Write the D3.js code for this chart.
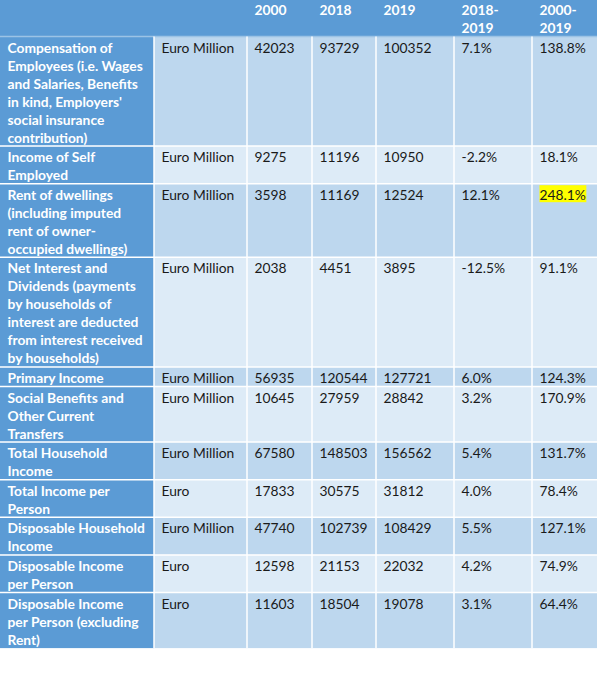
<!DOCTYPE html>
<html><head><meta charset="utf-8">
<script src="https://cdn.jsdelivr.net/npm/d3@7"></script>
<style>
html,body{margin:0;padding:0;background:#fff;}
svg{display:block;}
</style></head>
<body>
<svg id="chart" width="613" height="680"></svg>
<script>
// ---- data ----
const headers = ["", "", "2000", "2018", "2019", "2018-\n2019", "2000-\n2019"];
const indicators = [
  "Compensation of\nEmployees (i.e. Wages\nand Salaries, Benefits\nin kind, Employers'\nsocial insurance\ncontribution)",
  "Income of Self\nEmployed",
  "Rent of dwellings\n(including imputed\nrent of owner-\noccupied dwellings)",
  "Net Interest and\nDividends (payments\nby households of\ninterest are deducted\nfrom interest received\nby households)",
  "Primary Income",
  "Social Benefits and\nOther Current\nTransfers",
  "Total Household\nIncome",
  "Total Income per\nPerson",
  "Disposable Household\nIncome",
  "Disposable Income\nper Person",
  "Disposable Income\nper Person (excluding\nRent)"
];
const units = ["Euro Million","Euro Million","Euro Million","Euro Million","Euro Million","Euro Million","Euro Million","Euro","Euro Million","Euro","Euro"];
const values2000 = [42023, 9275, 3598, 2038, 56935, 10645, 67580, 17833, 47740, 12598, 11603];
const values2018 = [93729, 11196, 11169, 4451, 120544, 27959, 148503, 30575, 102739, 21153, 18504];
const values2019 = [100352, 10950, 12524, 3895, 127721, 28842, 156562, 31812, 108429, 22032, 19078];
const change1819 = [7.1, -2.2, 12.1, -12.5, 6.0, 3.2, 5.4, 4.0, 5.5, 4.2, 3.1];
const change0019 = [138.8, 18.1, 248.1, 91.1, 124.3, 170.9, 131.7, 78.4, 127.1, 74.9, 64.4];
const highlightRow = 2, highlightCol = 6;

// ---- layout ----
const colWidths = [154, 93, 65, 64, 78, 78, 65];
const x0 = 0, y0 = 0;
const lineH = 18, rowPad = 1.6, headerH = 36.5;
const pct = v => v.toFixed(1) + "%";

const rows = indicators.map((lab, i) => [
  lab, units[i], String(values2000[i]), String(values2018[i]), String(values2019[i]),
  pct(change1819[i]), pct(change0019[i])
]);

const colX = [x0];
colWidths.forEach(w => colX.push(colX[colX.length-1] + w));
const rowH = rows.map(r => r[0].split("\n").length * lineH + rowPad);
const rowY = [y0 + headerH];
rowH.forEach(h => rowY.push(rowY[rowY.length-1] + h));

const svg = d3.select("#chart");
const font = "Lato, 'Open Sans', sans-serif";
const fs = 13.8;

const dark = "#5b9bd5", lightA = "#bdd7ee", lightB = "#ddebf7";

// header background
const gH = svg.append("g");
gH.append("rect").attr("x", colX[0]).attr("y", y0)
  .attr("width", colX[7]-colX[0]).attr("height", headerH).attr("fill", dark);
headers.forEach((h, j) => {
  const t = gH.append("text").attr("x", colX[j] + 7.5).attr("y", y0 + 15)
    .attr("font-family", font).attr("font-size", fs).attr("font-weight", "bold").attr("fill", "#fff");
  h.split("\n").forEach((ln, k) => t.append("tspan").attr("x", colX[j] + 7.5).attr("dy", k ? lineH : 0).text(ln));
});

// body cells
const gB = svg.append("g");
rows.forEach((r, i) => {
  r.forEach((cell, j) => {
    const x = colX[j], y = rowY[i], w = colWidths[j], h = rowH[i];
    gB.append("rect").attr("x", x).attr("y", y).attr("width", w).attr("height", h)
      .attr("fill", j === 0 ? dark : (i % 2 === 0 ? lightA : lightB));
  });
});

// gridlines
const gG = svg.append("g").attr("stroke", "#fff").attr("stroke-width", 1.5);
rowY.slice(0, -1).forEach((y, i) => {
  if (i === 0) return;
  gG.append("line").attr("x1", colX[0]).attr("x2", colX[7]).attr("y1", y).attr("y2", y);
});
gG.append("line").attr("x1", colX[0]).attr("x2", colX[7]).attr("y1", rowY[0]).attr("y2", rowY[0])
  .attr("stroke", "#9cc3e5").attr("stroke-width", 1.5);
colX.slice(1, -1).forEach(x => {
  gG.append("line").attr("x1", x).attr("x2", x).attr("y1", rowY[0]).attr("y2", rowY[rowY.length-1]);
});

// text
const gT = svg.append("g");
rows.forEach((r, i) => {
  r.forEach((cell, j) => {
    const x = colX[j] + 7.5, y = rowY[i] + 16;
    if (i === highlightRow && j === highlightCol) {
      const tmp = gT.append("text").attr("font-family", font).attr("font-size", fs).text(cell);
      const bw = tmp.node().getComputedTextLength();
      tmp.remove();
      gT.append("rect").attr("x", x).attr("y", rowY[i] + 1.5).attr("width", bw + 0.5).attr("height", 17).attr("fill", "#ffff00");
    }
    const t = gT.append("text").attr("x", x).attr("y", y)
      .attr("font-family", font).attr("font-size", fs)
      .attr("font-weight", j === 0 ? "bold" : "normal")
      .attr("fill", j === 0 ? "#fff" : "#1a1a1a");
    cell.split("\n").forEach((ln, k) => t.append("tspan").attr("x", x).attr("dy", k ? lineH : 0).text(ln));
  });
});
</script>
</body></html>
